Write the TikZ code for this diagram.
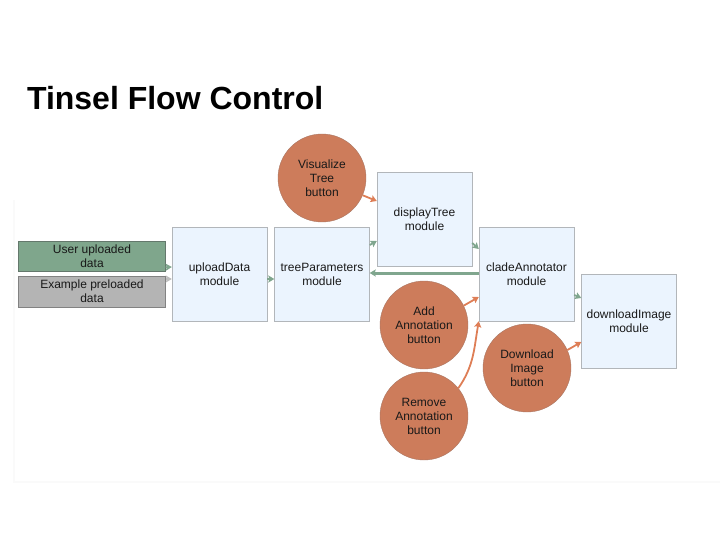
\documentclass[tikz,border=0pt]{standalone}
\usepackage{fontspec}
\setmainfont{Liberation Sans}
\usetikzlibrary{positioning}
\usetikzlibrary{arrows.meta}
\definecolor{modfill}{RGB}{235,244,254}
\definecolor{moddraw}{RGB}{178,182,186}
\definecolor{btnfill}{RGB}{205,124,91}
\definecolor{btndraw}{RGB}{170,120,100}
\definecolor{btnarrow}{RGB}{222,126,86}
\definecolor{userfill}{RGB}{127,166,140}
\definecolor{userdraw}{RGB}{100,120,108}
\definecolor{examplefill}{RGB}{180,180,180}
\definecolor{exampledraw}{RGB}{130,130,130}
\definecolor{flowgreen}{RGB}{128,166,142}
\definecolor{flowgray}{RGB}{190,190,190}
\definecolor{txt}{RGB}{25,25,25}
\tikzset{
every node/.style={ % Sets the text for each node
text=txt,
font=\fontsize{12}{14}\selectfont,
align=center},
module/.style={ % Sets the properties for each module box
draw=moddraw,
fill=modfill,
minimum width=95pt,
minimum height=94pt},
datasrc/.style={ % Sets the properties for the data boxes
minimum width=147pt,
minimum height=30pt,
inner sep=0pt},
button/.style={ % Sets the properties for each button
circle,
draw=btndraw,
fill=btnfill,
minimum size=88pt,
inner sep=0pt},
greenflow/.style={ % Transitions between modules
draw=flowgreen,
line width=1.8pt,
-{Stealth[length=6pt,width=7pt,inset=1pt]}},
grayflow/.style={
draw=flowgray,
line width=1.8pt,
-{Stealth[length=6pt,width=7pt,inset=1pt]}},
orangeflow/.style={ % Button presses
draw=btnarrow,
line width=1.8pt,
-{Stealth[length=6pt,width=7pt,inset=1pt]}}}
\begin{document}
\begin{tikzpicture}[x=1pt,y=-1pt]
\useasboundingbox (0,0) rectangle (720,540);
\draw[black!2, line width=2pt] (14,200) -- (14,482) -- (720,482);
\node[anchor=base west, font=\fontsize{32}{36}\selectfont\bfseries, text=black] (title) at (23.5,110) {Tinsel Flow Control};
\node[datasrc, fill=userfill, draw=userdraw] (user) at (92,256.5) {User uploaded\\data};
\node[datasrc, fill=examplefill, draw=exampledraw, minimum height=31pt] (example) at (92,291.5) {Example preloaded\\data};
\node[module] (upload) at (219.5,274) {uploadData\\module};
\node[module] (params) at (322,274) {treeParameters\\module};
\node[module] (display) at (424.5,219.5) {displayTree\\module};
\node[module] (clade) at (526.5,274) {cladeAnnotator\\module};
\node[module] (download) at (629,321) {downloadImage\\module};
\node[button] (visualize) at (322,178) {Visualize\\Tree\\button};
\node[button] (add) at (424,325) {Add\\Annotation\\button};
\node[button] (remove) at (424,416) {Remove\\Annotation\\button};
\node[button] (dlbtn) at (527,368) {Download\\Image\\button};
\draw ([yshift=4.5pt]user.south east) edge[greenflow] ([yshift=7pt]upload.west);
\draw ([yshift=12.5pt]example.east) edge[grayflow] ([yshift=-5pt]upload.west);
\draw ([yshift=-5pt]upload.east) edge[greenflow] ([yshift=-5pt]params.west);
\draw ([yshift=29pt]params.east) edge[greenflow] ([yshift=-21.5pt]display.west);
\draw ([yshift=-23.5pt]display.east) edge[greenflow] ([yshift=25pt]clade.west);
\draw ([yshift=1pt]clade.west) edge[greenflow, line width=3pt] ([yshift=1pt]params.east);
\draw ([yshift=-21pt]clade.east) edge[greenflow] ([yshift=23pt]download.west);
\draw (visualize.-23) edge[orangeflow] ([yshift=18.5pt]display.west);
\draw (add.26) edge[orangeflow] ([yshift=-23pt]clade.west);
\draw (remove.39) edge[orangeflow, out=55, in=-100] (clade.south west);
\draw (dlbtn.24) edge[orangeflow] ([yshift=-21pt]download.west);
\end{tikzpicture}
\end{document}
